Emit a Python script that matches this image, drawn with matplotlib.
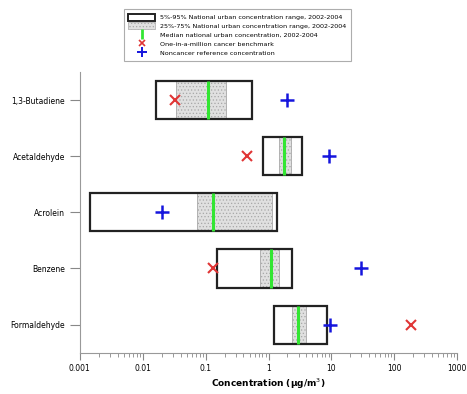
import numpy as np
import matplotlib
matplotlib.use('Agg')
import matplotlib.pyplot as plt
from matplotlib.patches import Rectangle, Patch
from matplotlib.lines import Line2D

chemicals = ['1,3-Butadiene', 'Acetaldehyde', 'Acrolein', 'Benzene', 'Formaldehyde']
p5 = [0.016, 0.81, 0.00146, 0.15, 1.23]
p95 = [0.55, 3.4, 1.34, 2.37, 8.4]
p25 = [0.034, 1.47, 0.073, 0.73, 2.35]
p75 = [0.21, 2.24, 1.13, 1.46, 3.96]
median = [0.11, 1.77, 0.13, 1.09, 2.92]
cancer_bench = [0.032, 0.45, None, 0.13, 181]
noncancer_ref = [2.0, 9.0, 0.02, 30, 9.6]

plt.rcParams['hatch.color'] = '#b0b0b0'
plt.rcParams['hatch.linewidth'] = 0.5

fig = plt.figure(figsize=(4.67, 3.94), dpi=100)
ax = fig.add_axes([0.171, 0.105, 0.808, 0.712])

h = 0.68
ypos = np.arange(len(chemicals))[::-1]
for i, y in enumerate(ypos):
    ax.add_patch(Rectangle((p25[i], y - h / 2), p75[i] - p25[i], h,
                           facecolor='#e0e0e0', edgecolor='#a8a8a8', lw=0.6,
                           hatch='.....', zorder=2))
    ax.add_patch(Rectangle((p5[i], y - h / 2), p95[i] - p5[i], h,
                           facecolor='none', edgecolor='#222222', lw=1.6, zorder=3))
    ax.plot([median[i], median[i]], [y - h / 2, y + h / 2], color='#33e633',
            lw=2.2, zorder=4, solid_capstyle='butt')
    if cancer_bench[i] is not None:
        ax.plot(cancer_bench[i], y, marker='x', color='#e03535', ms=7, mew=1.5,
                ls='none', zorder=5)
    ax.plot(noncancer_ref[i], y, marker='+', color='#1515dd', ms=10, mew=1.8,
            ls='none', zorder=5)

ax.set_xscale('log')
ax.set_xlim(0.001, 1000)
ax.set_ylim(-0.5, 4.5)
ax.set_yticks(ypos)
ax.set_yticklabels(chemicals, fontsize=5.5)
ax.set_xticks([0.001, 0.01, 0.1, 1, 10, 100, 1000])
ax.set_xticklabels(['0.001', '0.01', '0.1', '1', '10', '100', '1000'], fontsize=5.5)
ax.tick_params(axis='y', length=7, color='#888888', width=0.8)
ax.tick_params(axis='x', which='major', length=5, color='#888888', width=0.8)
ax.tick_params(axis='x', which='minor', length=3, color='#888888', width=0.6)
for s in ['top', 'right']:
    ax.spines[s].set_visible(False)
for s in ['left', 'bottom']:
    ax.spines[s].set_color('#999999')
    ax.spines[s].set_linewidth(0.8)
ax.set_xlabel('Concentration (µg/m$^3$)', fontsize=6.5, fontweight='bold', labelpad=2)

handles = [
    Patch(facecolor='white', edgecolor='#222222', lw=1.4),
    Patch(facecolor='#e0e0e0', edgecolor='#a8a8a8', lw=0.5, hatch='.....'),
    Line2D([], [], color='#33e633', marker='|', ms=7, mew=2, ls='none'),
    Line2D([], [], color='#e03535', marker='x', ms=5, mew=1.2, ls='none'),
    Line2D([], [], color='#1515dd', marker='+', ms=7, mew=1.4, ls='none'),
]
labels = [
    '5%-95% National urban concentration range, 2002-2004',
    '25%-75% National urban concentration range, 2002-2004',
    'Median national urban concentration, 2002-2004',
    'One-in-a-million cancer benchmark',
    'Noncancer reference concentration',
]
leg = fig.legend(handles, labels, loc='upper left', bbox_to_anchor=(0.258, 0.985),
                 fontsize=4.6, frameon=True, fancybox=False, edgecolor='#999999',
                 handlelength=4.2, handleheight=1.3, labelspacing=0.3,
                 borderpad=0.7, handletextpad=0.8)
leg.get_frame().set_linewidth(0.8)

fig.savefig('out.png', dpi=100)
